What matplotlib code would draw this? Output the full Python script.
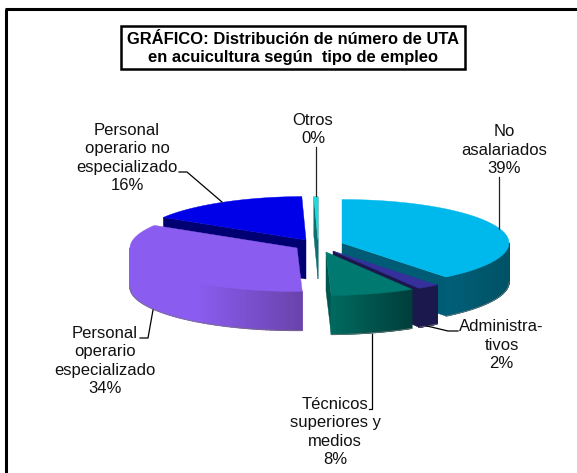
import numpy as np
import matplotlib
matplotlib.use("Agg")
import matplotlib.pyplot as plt
from matplotlib.collections import PolyCollection
from matplotlib.colors import to_rgb
from matplotlib.patches import Polygon, Rectangle

# Data
labels = ["No\nasalariados\n39%", "Administra-\ntivos\n2%", "Técnicos\nsuperiores y\nmedios\n8%",
          "Personal\noperario\nespecializado\n34%", "Personal\noperario no\nespecializado\n16%", "Otros\n0%"]
values = [39.3, 2.1, 8.1, 34.2, 15.9, 0.4]

# Styling, one entry per slice
top_colors = ["#00B9EC", "#35309C", "#007A70", "#8B5CF0", "#0000E8", "#19DCDC"]
wall_colors = ["#005C74", "#1A184C", "#00564F", "#5A3CA8", "#000072", "#0E6E70"]
side_from = ["#005F78", "#1A184C", "#006A60", "#8B5CF0", "#000072", "#0E6E70"]
side_to = ["#005266", "#1A184C", "#003E3A", "#6A44AC", "#000072", "#0E6E70"]
apex_x = [342, 333, 326, 297, 306, 318]
apex_y = [243, 251, 252, 248, 240, 240]
label_x = [504, 501.5, 335, 105, 127, 313]
label_y = [150, 345, 432, 361, 158, 129.5]

RX, RY, DEPTH = 167, 43.5, 39

fig = plt.figure(figsize=(5.77, 4.73), dpi=100)
ax = fig.add_axes([0, 0, 1, 1])
ax.set_xlim(0, 577)
ax.set_ylim(473, 0)
ax.axis("off")
plt.rcParams["font.family"] = ["Liberation Sans", "DejaVu Sans"]

# Outer frame, runs off the right and bottom of the image
ax.plot([6.2, 6.2], [473, 9.5], color="black", lw=2.2, solid_capstyle="butt")
ax.plot([4.7, 577], [9.5, 9.5], color="black", lw=2.2, solid_capstyle="butt")


def rim(cx, cy, t):
    return cx + RX * np.sin(t), cy - RY * np.cos(t)


# Angles run clockwise from the top of the pie
edges = np.radians(np.concatenate([[0], np.cumsum(values)]) / sum(values) * 360)

# Back slices first so the front ones cover them
for i in [4, 5, 3, 0, 1, 2]:
    t1, t2 = edges[i], edges[i + 1]
    cx, cy = apex_x[i], apex_y[i]

    # Cut faces
    for t in (t1, t2):
        show = np.sin(t) < 0 if t == t1 else np.sin(t) > 0
        if show:
            x, y = rim(cx, cy, t)
            ax.add_patch(Polygon([(cx, cy), (x, y), (x, y + DEPTH), (cx, cy + DEPTH)],
                                 closed=True, fc=wall_colors[i], ec=wall_colors[i], lw=0.3))

    # Outer wall, shaded along its length
    lo, hi = max(t1, np.pi / 2), min(t2, 3 * np.pi / 2)
    if hi > lo:
        ts = np.linspace(lo, hi, 60)
        xs, ys = rim(cx, cy, ts)
        quads = [[(xs[k], ys[k]), (xs[k + 1], ys[k + 1]), (xs[k + 1], ys[k + 1] + DEPTH), (xs[k], ys[k] + DEPTH)]
                 for k in range(len(ts) - 1)]
        u = (xs[:-1] - xs.min()) / (xs.max() - xs.min())
        c0, c1 = np.array(to_rgb(side_from[i])), np.array(to_rgb(side_to[i]))
        if i == 3:
            cols = [c0 + (c1 - c0) * max(0, (a - 0.4) / 0.6) for a in u]
        else:
            cols = [c0 + (c1 - c0) * a for a in u]
        ax.add_collection(PolyCollection(quads, facecolors=cols, edgecolors=cols, linewidths=0.9))
        ax.plot(xs, ys + DEPTH, color="#777777", lw=0.5)

    # Top face
    ts = np.linspace(t1, t2, 80)
    xs, ys = rim(cx, cy, ts)
    ax.add_patch(Polygon(np.column_stack([np.r_[cx, xs], np.r_[cy, ys]]), closed=True,
                         fc=top_colors[i], ec=top_colors[i], lw=0.3))

# Leader lines
ax.plot([499, 499], [177, 229], color="#222222", lw=0.9)
ax.plot([315.7, 315.7], [147, 196], color="#222222", lw=0.9)
ax.plot([179, 187, 222], [172, 172, 202], color="black", lw=0.9)
ax.plot([153, 148, 140], [310, 338, 338], color="black", lw=0.9)
ax.plot([427, 448, 458], [326, 331, 331], color="black", lw=0.9)
ax.plot([372, 372, 369], [334, 409, 409], color="black", lw=0.9)

for lab, x, y in zip(labels, label_x, label_y):
    ax.text(x, y, lab, ha="center", va="center", fontsize=12, color="#111111", linespacing=1.27)

# Title box
ax.add_patch(Rectangle((121, 26), 344, 43.5, fc="white", ec="black", lw=1.8))
ax.text(293, 48.5, "GRÁFICO: Distribución de número de UTA\nen acuicultura según  tipo de empleo",
        ha="center", va="center", fontsize=11.9, fontweight="bold", linespacing=1.33)

fig.savefig("out.png", dpi=100)
